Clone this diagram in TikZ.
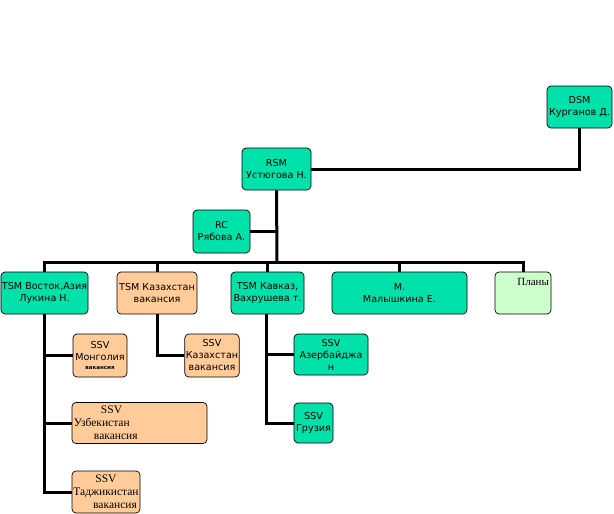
\documentclass[tikz,border=0pt]{standalone}
\usepackage{fontspec}
\setmainfont{DejaVu Sans}
\newfontfamily\ruserif{Liberation Serif}
\usetikzlibrary{calc}
\definecolor{mgrgreen}{RGB}{0,226,170}
\definecolor{vacorange}{RGB}{255,204,153}
\definecolor{planlight}{RGB}{204,255,204}

\begin{document}
\begin{tikzpicture}[x=1pt, y=-1pt,
  font=\fontsize{9.6}{12}\selectfont,
  box/.style={draw, line width=0.7pt, rounded corners=4pt, align=center, inner sep=1pt, minimum height=42pt},
  grn/.style={box, fill=mgrgreen},
  vac/.style={box, fill=vacorange},
  serifru/.style={font=\ruserif\fontsize{11.5}{13}\selectfont},
  lnk/.style={line width=3pt}]
  \useasboundingbox (0,0) rectangle (614,514);
  % top level
  \node[grn, minimum width=65pt] (dsm) at (579.5,107) {DSM\\Курганов Д.};
  \node[grn, minimum width=69pt] (rsm) at (276.5,169) {RSM\\Устюгова Н.};
  \node[grn, minimum width=57pt, minimum height=43pt] (rc) at (221.5,231.5) {RC\\Рябова А.};
  \coordinate (hub) at (277,262);
  % managers row
  \node[grn, minimum width=87pt] (tsmA) at (44.5,293) {TSM Восток,Азия\\Лукина Н.};
  \node[vac, minimum width=80pt] (tsmK) at (157,293) {TSM Казахстан\\вакансия};
  \node[grn, minimum width=73pt] (tsmC) at (267.5,293) {TSM Кавказ,\\Вахрушева т.};
  \node[grn, minimum width=135pt] (mal) at (399.5,293) {М.\\Малышкина Е.};
  \node[box, fill=planlight, minimum width=56pt, text width=52pt, align=right,
    text height=8pt, text depth=24pt, font=\ruserif\fontsize{11}{12}\selectfont] (plan) at (523,293) {Планы};
  % supervisors
  \node[vac, minimum width=54pt, minimum height=43pt] (ssvMon) at (100,355.5)
    {SSV\\Монголия\\[-3pt]{\fontsize{5.5}{6}\selectfont\bfseries вакансия}};
  \node[vac, minimum width=135pt, minimum height=41pt, text width=131pt, align=left, serifru] (ssvUz) at (139.5,423)
    {\hspace*{27pt}SSV\\Узбекистан\\\hspace*{20pt}вакансия};
  \node[vac, minimum width=68pt, serifru] (ssvTj) at (106,492)
    {SSV\\Таджикистан\\\hspace*{18pt}вакансия};
  \node[vac, minimum width=54pt, minimum height=43pt] (ssvKz) at (212,355.5) {SSV\\Казахстан\\вакансия};
  \node[grn, minimum width=74pt, minimum height=41pt] (ssvAz) at (331,354.5) {SSV\\Азербайджа\\н};
  \node[grn, minimum width=39pt, minimum height=40pt] (ssvGe) at (313.5,423) {SSV\\Грузия};
  % connectors
  \draw[lnk] (rsm.east) -| (dsm.south);
  \draw[lnk] (rsm.south) -- (hub);
  \draw[lnk] (rc.east) -- (rc.east -| hub);
  \foreach \m in {tsmA,tsmK,tsmC,mal,plan}
    \draw[lnk] (\m.north) |- (hub);
  \draw[lnk] (tsmA.south) |- (ssvTj.west);
  \draw[lnk] (tsmA.south |- ssvMon.west) -- (ssvMon.west);
  \draw[lnk] (tsmA.south |- ssvUz.west) -- (ssvUz.west);
  \draw[lnk] (tsmK.south) |- (ssvKz.west);
  \draw[lnk] ([xshift=-1.5pt]tsmC.south) |- (ssvGe.west);
  \draw[lnk] ([xshift=-1.5pt]tsmC.south |- ssvAz.west) -- (ssvAz.west);
\end{tikzpicture}
\end{document}
